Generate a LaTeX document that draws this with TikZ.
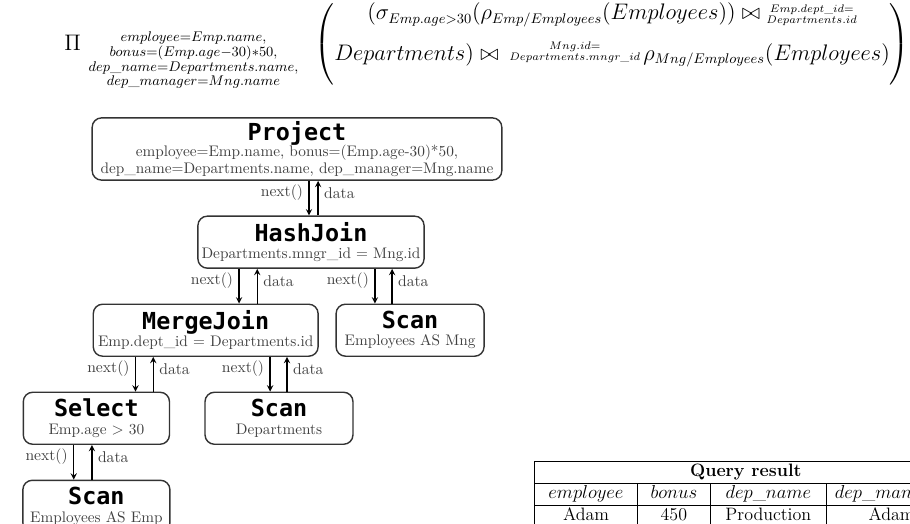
\documentclass[tikz,border=0pt]{standalone}
\usepackage{fontspec}
\usepackage{amsmath}
\usepackage{array}
\usepackage{tikz}
\usetikzlibrary{arrows, positioning}
\newfontfamily\opfont{DejaVu Sans Mono}
\newcommand{\optitle}[1]{{\color{black}\opfont\bfseries\fontsize{15}{15}\selectfont #1}}
% two-line join condition, baseline on the lower line
\newcommand{\joincond}[2]{\vbox{\baselineskip=7pt\lineskiplimit=-\maxdimen\halign{\hfil$\scriptscriptstyle##$\hfil\cr#1\cr#2\cr}}}

\begin{document}
\begin{tikzpicture}[
    x=0.0225cm, y=-0.0225cm,
    node distance=0.78cm,
    op/.style={rectangle, draw=black!80, line width=0.9pt, rounded corners=6pt, align=center, inner sep=1pt, minimum height=1.17cm, text=black!75, font=\fontsize{9.8}{11}\selectfont},
    lbl/.style={text=black!75, font=\fontsize{10}{11}\selectfont, inner sep=3.5pt},
    arrow/.style={->, >=stealth, thick}
]
    \useasboundingbox (0,0) rectangle (910,524);
    \clip (0,0) rectangle (910,524);

    % relational algebra expression
    \node[anchor=base west, inner sep=0pt] (query) at (64,50) {\fontsize{13.4}{16}\selectfont
        $\displaystyle \Pi\hspace{5pt}\raisebox{-9.9pt}{$\substack{employee=Emp.name,\\ bonus=(Emp.age-30)*50,\\ dep\_name=Departments.name,\\ dep\_manager=Mng.name}$}
        \hspace{8pt}\left(\rule[-17.7pt]{0pt}{42pt}\raisebox{6pt}{$\begin{array}{@{}c@{}}
            (\sigma_{Emp.age>30}(\rho_{Emp/Employees}(Employees))\bowtie\raisebox{-2pt}{\joincond{Emp.dept\_id=}{Departments.id}} \\[9pt]
            Departments)\bowtie\hspace{3pt}\joincond{Mng.id=}{Departments.mngr\_id}\hspace{2pt}\rho_{Mng/Employees}(Employees)
        \end{array}$}\right)$};

    % operator tree
    \node[op, minimum width=9.22cm, minimum height=1.4cm] (project) at (297,149) {\optitle{Project}\\[-1pt] employee=Emp.name, bonus=(Emp.age-30)*50,\\ dep\_name=Departments.name, dep\_manager=Mng.name};
    \node[op, minimum width=5.09cm, below=of project, xshift=0.315cm] (hashjoin) {\optitle{HashJoin}\\ Departments.mngr\_id = Mng.id};
    \node[op, minimum width=5.06cm, below=of hashjoin, xshift=-2.37cm] (mergejoin) {\optitle{MergeJoin}\\ Emp.dept\_id = Departments.id};
    \node[op, minimum width=3.33cm, below=of hashjoin, xshift=2.23cm] (scanmng) {\optitle{Scan}\\ Employees AS Mng};
    \node[op, minimum width=3.29cm, below=of mergejoin, xshift=-2.46cm] (select) {\optitle{Select}\\ Emp.age $>$ 30};
    \node[op, minimum width=3.33cm, below=of mergejoin, xshift=1.65cm] (scandep) {\optitle{Scan}\\ Departments};
    \node[op, minimum width=3.31cm, below=of select] (scanemp) {\optitle{Scan}\\ Employees AS Emp};

    \draw[arrow] ([xshift=-0.045cm]hashjoin.north |- project.south) -- node[lbl, pos=0.35, left] {next()} ([xshift=-0.045cm]hashjoin.north);
    \draw[arrow] ([xshift=0.16cm]hashjoin.north) -- node[lbl, pos=0.65, right] {data} ([xshift=0.16cm]hashjoin.north |- project.south);

    \draw[arrow] ([xshift=0.75cm]mergejoin.north |- hashjoin.south) -- node[lbl, pos=0.35, left] {next()} ([xshift=0.75cm]mergejoin.north);
    \draw[arrow] ([xshift=1.16cm]mergejoin.north) -- node[lbl, pos=0.65, right] {data} ([xshift=1.16cm]mergejoin.north |- hashjoin.south);

    \draw[arrow] ([xshift=-0.79cm]scanmng.north |- hashjoin.south) -- node[lbl, pos=0.35, left] {next()} ([xshift=-0.79cm]scanmng.north);
    \draw[arrow] ([xshift=-0.405cm]scanmng.north) -- node[lbl, pos=0.65, right] {data} ([xshift=-0.405cm]scanmng.north |- hashjoin.south);

    \draw[arrow] ([xshift=0.88cm]select.north |- mergejoin.south) -- node[lbl, pos=0.35, left] {next()} ([xshift=0.88cm]select.north);
    \draw[arrow] ([xshift=1.28cm]select.north) -- node[lbl, pos=0.65, right] {data} ([xshift=1.28cm]select.north |- mergejoin.south);

    \draw[arrow] ([xshift=-0.2cm]scandep.north |- mergejoin.south) -- node[lbl, pos=0.35, left] {next()} ([xshift=-0.2cm]scandep.north);
    \draw[arrow] ([xshift=0.18cm]scandep.north) -- node[lbl, pos=0.65, right] {data} ([xshift=0.18cm]scandep.north |- mergejoin.south);

    \draw[arrow] ([xshift=-0.51cm]scanemp.north |- select.south) -- node[lbl, pos=0.35, left] {next()} ([xshift=-0.51cm]scanemp.north);
    \draw[arrow] ([xshift=-0.1cm]scanemp.north) -- node[lbl, pos=0.65, right] {data} ([xshift=-0.1cm]scanemp.north |- select.south);

    % result table
    \node[anchor=north west, inner sep=0pt] (result) at (528,461) {\fontsize{11.5}{14}\selectfont
        \renewcommand{\arraystretch}{0.96}\setlength{\arrayrulewidth}{0.6pt}
        \begin{tabular}{|w{c}{1.87cm}|w{c}{1.2cm}|w{c}{2.165cm}|w{c}{2.5cm}|}
            \hline
            \multicolumn{4}{|c|}{\textbf{Query result}} \\ \hline
            $employee$ & $bonus$ & $dep\_name$ & $dep\_manager$ \\ \hline
            Adam & 450 & Production & Adam \\ \hline
        \end{tabular}};
\end{tikzpicture}
\end{document}
